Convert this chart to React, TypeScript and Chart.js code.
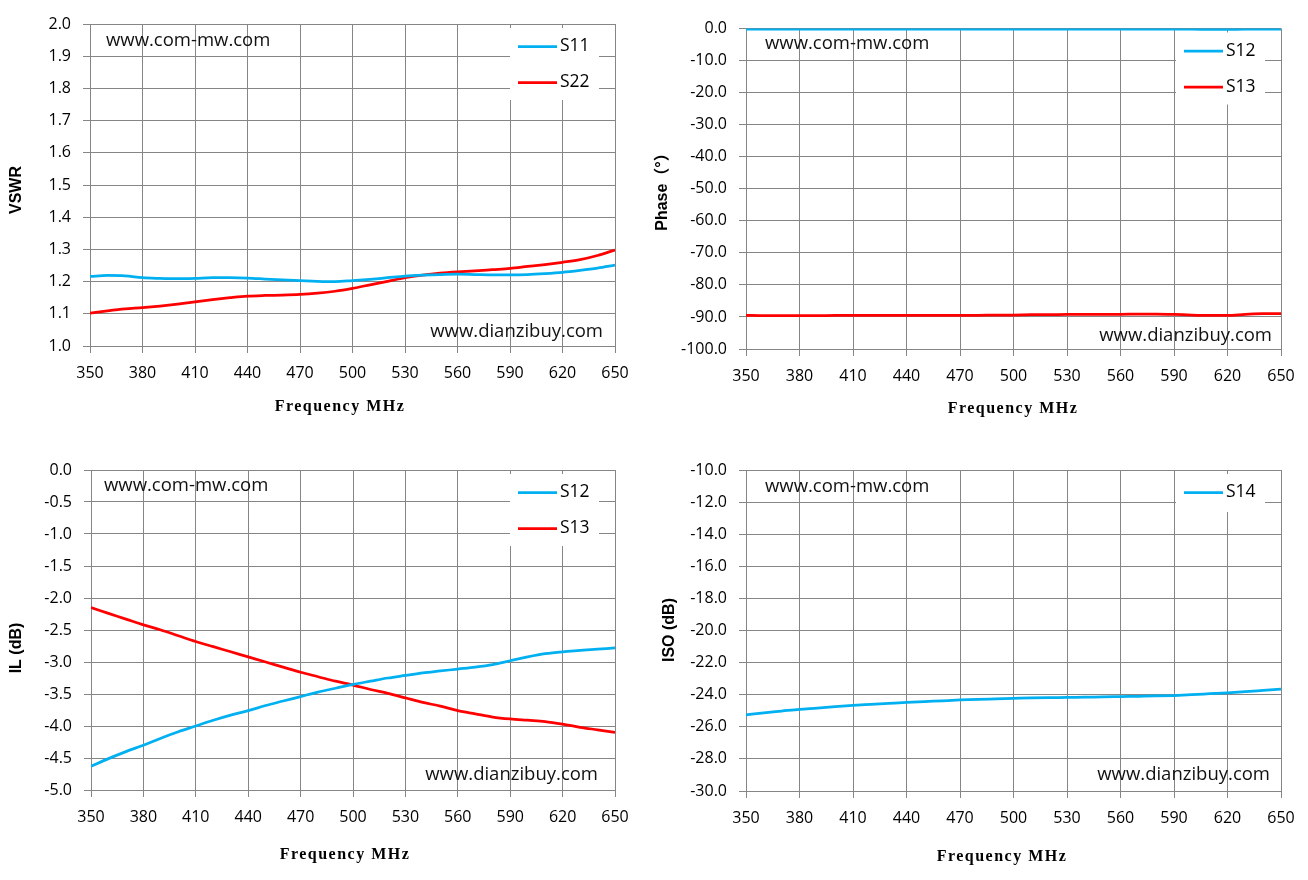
import { useEffect, useRef } from "react";
import { Chart, registerables } from "chart.js";

Chart.register(...registerables);

// frequency points, MHz
const FREQ = [
    350, 360, 370, 380, 390, 400, 410, 420, 430, 440, 450,
    460, 470, 480, 490, 500, 510, 520, 530, 540, 550, 560,
    570, 580, 590, 600, 610, 620, 630, 640, 650,
];

const VSWR_S11 = [
    1.216, 1.219, 1.218, 1.212, 1.21, 1.209, 1.21, 1.212, 1.212, 1.211, 1.208,
    1.205, 1.203, 1.201, 1.2, 1.203, 1.207, 1.212, 1.217, 1.22, 1.222, 1.223,
    1.222, 1.221, 1.221, 1.222, 1.225, 1.229, 1.235, 1.242, 1.251,
];
const VSWR_S22 = [
    1.102, 1.109, 1.115, 1.119, 1.124, 1.13, 1.137, 1.144, 1.15, 1.155, 1.157,
    1.158, 1.16, 1.164, 1.17, 1.179, 1.19, 1.201, 1.212, 1.22, 1.226, 1.23,
    1.233, 1.237, 1.241, 1.247, 1.253, 1.26, 1.268, 1.281, 1.298,
];

const PHASE_S12 = [
    -0.2, -0.2, -0.2, -0.2, -0.2, -0.2, -0.2, -0.2, -0.2, -0.2, -0.2,
    -0.2, -0.2, -0.2, -0.2, -0.2, -0.2, -0.2, -0.2, -0.2, -0.2, -0.2,
    -0.2, -0.2, -0.2, -0.2, -0.3, -0.3, -0.2, -0.2, -0.2,
];
const PHASE_S13 = [
    -89.5, -89.6, -89.6, -89.6, -89.6, -89.5, -89.5, -89.5, -89.5, -89.5, -89.5,
    -89.5, -89.5, -89.5, -89.4, -89.4, -89.3, -89.3, -89.2, -89.2, -89.2, -89.2,
    -89.1, -89.1, -89.2, -89.4, -89.5, -89.5, -89.2, -89.0, -89.0,
];

const IL_S12 = [
    -4.63, -4.51, -4.4, -4.3, -4.19, -4.09, -4.0, -3.91, -3.83, -3.76, -3.68,
    -3.61, -3.54, -3.47, -3.41, -3.35, -3.3, -3.25, -3.21, -3.17, -3.14, -3.11,
    -3.08, -3.04, -2.98, -2.92, -2.87, -2.84, -2.82, -2.8, -2.78,
];
const IL_S13 = [
    -2.15, -2.24, -2.33, -2.42, -2.5, -2.59, -2.68, -2.76, -2.84, -2.92, -3.0,
    -3.08, -3.16, -3.23, -3.3, -3.36, -3.43, -3.49, -3.56, -3.63, -3.69, -3.76,
    -3.81, -3.86, -3.89, -3.91, -3.93, -3.97, -4.02, -4.06, -4.1,
];

const ISO_S14 = [
    -25.25, -25.13, -25.02, -24.91, -24.83, -24.74, -24.66, -24.6, -24.54, -24.48, -24.43,
    -24.38, -24.33, -24.29, -24.26, -24.23, -24.2, -24.18, -24.17, -24.15, -24.14, -24.12,
    -24.1, -24.08, -24.05, -24.0, -23.94, -23.88, -23.81, -23.73, -23.65,
];

const BLUE = "#00B0F0";
const RED = "#FF0000";
const GRID = "#868686";
const SANS = "'Open Sans', 'Noto Sans', sans-serif";
const X_TITLE = "Frequency MHz";
const MARK_TOP = "www.com-mw.com";
const MARK_BOTTOM = "www.dianzibuy.com";

interface Series {
    label: string;
    color: string;
    values: number[];
}

interface PanelProps {
    box: { left: number; top: number; width: number; height: number };
    area: { left: number; top: number; right: number; bottom: number };
    yMin: number;
    yMax: number;
    yStep: number;
    yTitle: string;
    yTitleAt: [number, number];
    xTitleAt: [number, number];
    markTop: [number, number];
    markBottom: [number, number];
    series: Series[];
}

function Panel(p: PanelProps) {
    const canvasRef = useRef<HTMLCanvasElement>(null);
    const chartRef = useRef<Chart | null>(null);

    useEffect(() => {
        if (!canvasRef.current) return;
        chartRef.current?.destroy();

        const { box, area } = p;

        const decor = {
            id: "decor",
            afterDraw(chart: Chart) {
                const ctx = chart.ctx;
                const a = chart.chartArea;
                ctx.save();

                // watermarks
                ctx.fillStyle = "#111";
                ctx.font = `18.5px ${SANS}`;
                ctx.textBaseline = "middle";
                ctx.textAlign = "left";
                ctx.fillText(MARK_TOP, a.left + p.markTop[0], a.top + p.markTop[1]);
                ctx.textAlign = "right";
                ctx.fillText(MARK_BOTTOM, a.right + p.markBottom[0], a.bottom + p.markBottom[1]);

                // legend box
                const rows = p.series.length;
                ctx.fillStyle = "#fff";
                ctx.fillRect(a.right - 105, a.top + 4, 89, rows === 2 ? 72 : 38);
                p.series.forEach((s, i) => {
                    const y = a.top + 22.5 + i * 36;
                    ctx.strokeStyle = s.color;
                    ctx.lineWidth = 2.75;
                    ctx.beginPath();
                    ctx.moveTo(a.right - 97, y);
                    ctx.lineTo(a.right - 58, y);
                    ctx.stroke();
                    ctx.fillStyle = "#000";
                    ctx.font = `17.5px ${SANS}`;
                    ctx.textAlign = "left";
                    ctx.fillText(s.label, a.right - 55, y);
                });

                // axis titles
                ctx.fillStyle = "#000";
                ctx.textAlign = "center";
                ctx.font = "bold 16px 'Liberation Serif', serif";
                (ctx as any).letterSpacing = "1.5px";
                ctx.fillText(X_TITLE, p.xTitleAt[0] - box.left, p.xTitleAt[1] - box.top);
                (ctx as any).letterSpacing = "0px";

                ctx.translate(p.yTitleAt[0] - box.left, p.yTitleAt[1] - box.top);
                ctx.rotate(-Math.PI / 2);
                ctx.font = "bold 16px 'Liberation Sans', 'Noto Sans CJK SC', sans-serif";
                ctx.fillText(p.yTitle, 0, 0);
                ctx.restore();
            },
        };

        chartRef.current = new Chart(canvasRef.current, {
            type: "line",
            data: {
                datasets: p.series.map((s) => ({
                    label: s.label,
                    data: FREQ.map((f, i) => ({ x: f, y: s.values[i] })),
                    borderColor: s.color,
                    backgroundColor: s.color,
                    borderWidth: 2.75,
                    pointRadius: 0,
                    cubicInterpolationMode: "monotone" as const,
                })),
            },
            options: {
                animation: false,
                responsive: true,
                maintainAspectRatio: false,
                layout: {
                    padding: {
                        top: area.top - box.top,
                        right: box.left + box.width - area.right,
                        left: 0,
                        bottom: 0,
                    },
                },
                plugins: {
                    legend: { display: false },
                    tooltip: { enabled: false },
                },
                scales: {
                    x: {
                        type: "linear",
                        min: 350,
                        max: 650,
                        ticks: {
                            stepSize: 30,
                            color: "#000",
                            font: { family: SANS, size: 16 },
                            padding: 11,
                            maxRotation: 0,
                            autoSkip: false,
                        },
                        grid: { color: GRID, tickColor: GRID, tickLength: 7 },
                        border: { color: GRID },
                        afterFit: (s: any) => {
                            s.height = box.top + box.height - area.bottom;
                        },
                    },
                    y: {
                        min: p.yMin,
                        max: p.yMax,
                        ticks: {
                            stepSize: p.yStep,
                            color: "#000",
                            font: { family: SANS, size: 16 },
                            padding: 12,
                            callback: (v: any) => Number(v).toFixed(1),
                        },
                        grid: { color: GRID, tickColor: GRID, tickLength: 7 },
                        border: { color: GRID },
                        afterFit: (s: any) => {
                            s.width = area.left - box.left;
                        },
                    },
                },
            },
            plugins: [decor],
        });

        return () => {
            chartRef.current?.destroy();
            chartRef.current = null;
        };
    }, []);

    return (
        <div
            style={{
                position: "absolute",
                left: p.box.left,
                top: p.box.top,
                width: p.box.width,
                height: p.box.height,
            }}
        >
            <canvas ref={canvasRef} role="img" aria-label={p.yTitle} />
        </div>
    );
}

export default function App() {
    return (
        <div style={{ position: "absolute", left: 0, top: 0, width: 1308, height: 880, background: "#fff" }}>
            <Panel
                box={{ left: 0, top: 0, width: 640, height: 440 }}
                area={{ left: 90, top: 24, right: 615, bottom: 346 }}
                yMin={1}
                yMax={2}
                yStep={0.1}
                yTitle="VSWR"
                yTitleAt={[17, 190]}
                xTitleAt={[340, 407]}
                markTop={[16, 17]}
                markBottom={[-12, -14]}
                series={[
                    { label: "S11", color: BLUE, values: VSWR_S11 },
                    { label: "S22", color: RED, values: VSWR_S22 },
                ]}
            />
            <Panel
                box={{ left: 640, top: 0, width: 668, height: 440 }}
                area={{ left: 746, top: 28.5, right: 1281, bottom: 349 }}
                yMin={-100}
                yMax={0}
                yStep={10}
                yTitle="Phase（°）"
                yTitleAt={[663, 188]}
                xTitleAt={[1013, 409]}
                markTop={[19, 15.5]}
                markBottom={[-9, -13]}
                series={[
                    { label: "S12", color: BLUE, values: PHASE_S12 },
                    { label: "S13", color: RED, values: PHASE_S13 },
                ]}
            />
            <Panel
                box={{ left: 0, top: 440, width: 640, height: 440 }}
                area={{ left: 91, top: 470, right: 615, bottom: 790 }}
                yMin={-5}
                yMax={0}
                yStep={0.5}
                yTitle="IL (dB)"
                yTitleAt={[17, 648]}
                xTitleAt={[345, 855]}
                markTop={[13, 16]}
                markBottom={[-17, -15]}
                series={[
                    { label: "S12", color: BLUE, values: IL_S12 },
                    { label: "S13", color: RED, values: IL_S13 },
                ]}
            />
            <Panel
                box={{ left: 640, top: 440, width: 668, height: 440 }}
                area={{ left: 746, top: 470, right: 1281, bottom: 791 }}
                yMin={-30}
                yMax={-10}
                yStep={2}
                yTitle="ISO (dB)"
                yTitleAt={[670, 630]}
                xTitleAt={[1002, 857]}
                markTop={[19, 17]}
                markBottom={[-11, -16]}
                series={[{ label: "S14", color: BLUE, values: ISO_S14 }]}
            />
        </div>
    );
}
